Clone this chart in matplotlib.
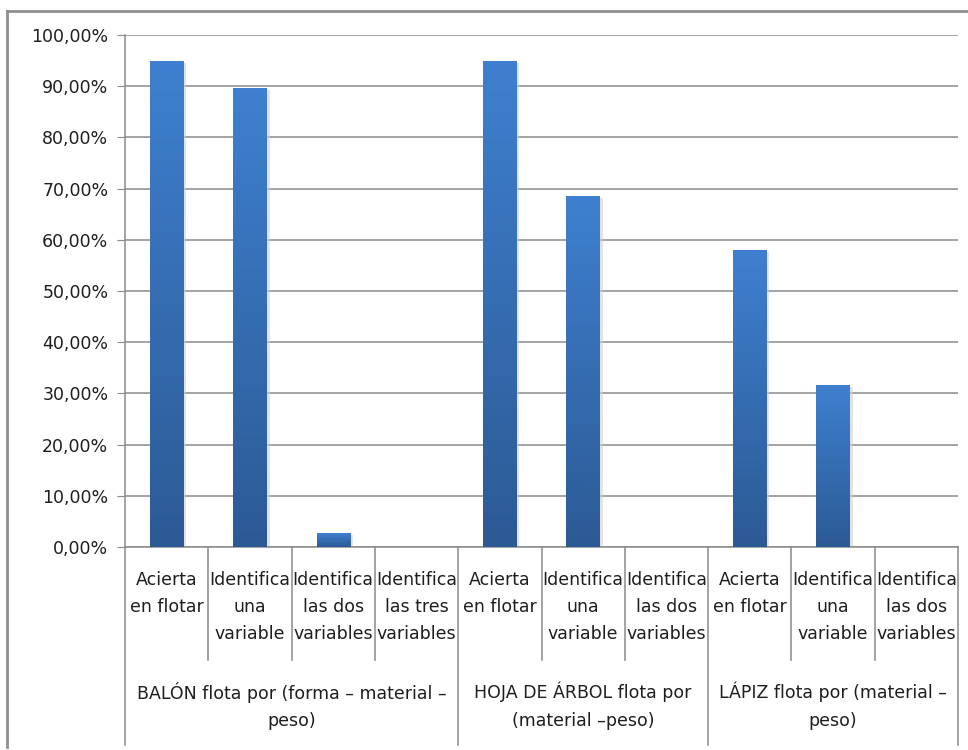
import numpy as np
import matplotlib.pyplot as plt
from matplotlib.colors import LinearSegmentedColormap
from matplotlib.patches import Rectangle
from matplotlib.ticker import FuncFormatter

# data
categories = ['Acierta\nen flotar', 'Identifica\nuna\nvariable',
              'Identifica\nlas dos\nvariables', 'Identifica\nlas tres\nvariables',
              'Acierta\nen flotar', 'Identifica\nuna\nvariable',
              'Identifica\nlas dos\nvariables',
              'Acierta\nen flotar', 'Identifica\nuna\nvariable',
              'Identifica\nlas dos\nvariables']
values = [94.74, 89.47, 2.63, 0.0, 94.74, 68.42, 0.0, 57.89, 31.58, 0.0]
groups = ['BALÓN flota por (forma – material –\npeso)',
          'HOJA DE ÁRBOL flota por\n(material –peso)',
          'LÁPIZ flota por (material –\npeso)']
group_sizes = [4, 3, 3]

plt.rcParams['font.family'] = ['DejaVu Sans']
text_col = '#1e1e1e'
line_col = '#8a8a8a'

fig = plt.figure(figsize=(9.68, 7.5), dpi=100)
ax = fig.add_axes([125 / 968, (750 - 547) / 750, (958 - 125) / 968, 512 / 750])

# outer chart frame
fig.add_artist(plt.Line2D([7 / 968, 7 / 968], [0.004, 1 - 11 / 750],
                          transform=fig.transFigure, color='#8f8f8f', lw=2))
fig.add_artist(plt.Line2D([7 / 968, 1.0], [1 - 11 / 750, 1 - 11 / 750],
                          transform=fig.transFigure, color='#8f8f8f', lw=2))

cmap = LinearSegmentedColormap.from_list('bar', ['#2c5a95', '#3e80cf'])
x = np.arange(len(values))
w = 0.4
for xi, v in zip(x, values):
    if v <= 0:
        continue
    # soft shadow
    ax.add_patch(Rectangle((xi - w / 2 + 0.015, 0), w + 0.02, v - 0.3,
                           color='#cfcfcf', alpha=0.6, lw=0, zorder=2))
    grad = np.linspace(1, 0, 100).reshape(-1, 1)
    ax.imshow(grad, cmap=cmap, aspect='auto', zorder=3,
              extent=[xi - w / 2, xi + w / 2, 0, v], interpolation='bicubic')

ax.set_xlim(-0.5, len(values) - 0.5)
ax.set_ylim(0, 100)
ax.set_yticks(np.arange(0, 101, 10))
ax.yaxis.set_major_formatter(FuncFormatter(lambda v, p: f'{v:.2f}%'.replace('.', ',')))
ax.grid(axis='y', color=line_col, lw=1.1, zorder=0)
ax.set_axisbelow(True)
ax.set_xticks([])
for s in ['top', 'right']:
    ax.spines[s].set_visible(False)
ax.spines['left'].set_color(line_col)
ax.spines['bottom'].set_color(line_col)
ax.spines['left'].set_linewidth(1.1)
ax.spines['bottom'].set_linewidth(1.1)
ax.tick_params(axis='y', direction='out', length=6, color=line_col,
               labelsize=12.5, labelcolor=text_col, pad=6)

tr = ax.get_xaxis_transform()
inner_bottom = -113 / 512
outer_bottom = -198 / 512

# category labels
for xi, lab in zip(x, categories):
    ax.text(xi, -24 / 512, lab, transform=tr, ha='center', va='top',
            fontsize=12.5, color=text_col, linespacing=1.65)

# separators and group labels
edges = np.cumsum([0] + group_sizes) - 0.5
for i in range(len(values) + 1):
    b = i - 0.5
    bottom = outer_bottom if b in edges else inner_bottom
    ax.plot([b, b], [0, bottom], transform=tr, color=line_col, lw=1.1,
            clip_on=False)
for g, lo, hi in zip(groups, edges[:-1], edges[1:]):
    ax.text((lo + hi) / 2, -135 / 512, g, transform=tr, ha='center', va='top',
            fontsize=12.5, color=text_col, linespacing=1.65)

fig.savefig('out.png', dpi=100)
